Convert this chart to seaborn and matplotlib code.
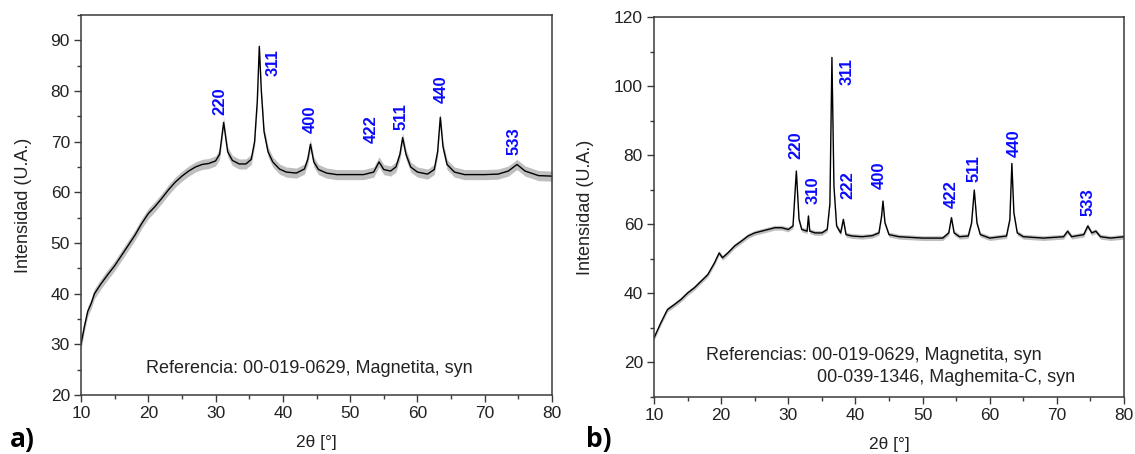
import numpy as np
import pandas as pd
import matplotlib
matplotlib.use("Agg")
import matplotlib.pyplot as plt
from matplotlib.ticker import MultipleLocator
import seaborn as sns

# ---------------- data ----------------
a_theta = [10.0, 10.5, 11.0, 11.5, 12.0, 13.0, 14.0, 15.0, 16.0, 17.0, 18.0, 19.0, 20.0,
           21.0, 22.0, 23.0, 24.0, 25.0, 26.0, 27.0, 28.0, 29.0, 30.0, 30.6, 31.2, 31.8,
           32.5, 33.5, 34.5, 35.3, 35.8, 36.2, 36.5, 36.8, 37.2, 37.8, 38.5, 39.5, 40.5,
           42.0, 43.2, 43.7, 44.1, 44.6, 45.3, 46.5, 48.0, 50.0, 52.0, 53.5, 54.3, 55.0,
           56.0, 56.8, 57.4, 57.8, 58.3, 59.0, 60.0, 61.5, 62.5, 63.0, 63.4, 63.8, 64.4,
           65.5, 67.0, 70.0, 72.0, 73.5, 74.8, 76.0, 78.0, 80.0]
a_int = [30.0, 33.5, 36.5, 38.0, 40.0, 42.0, 43.8, 45.5, 47.5, 49.5, 51.5, 53.8, 55.8,
         57.2, 58.8, 60.5, 62.0, 63.2, 64.2, 65.0, 65.5, 65.7, 66.2, 67.5, 73.8, 68.0,
         66.3, 65.6, 65.6, 66.5, 70.0, 78.0, 88.8, 80.0, 72.0, 68.0, 66.0, 64.6, 64.0,
         63.8, 64.6, 66.5, 69.5, 66.0, 64.5, 63.8, 63.5, 63.5, 63.5, 64.0, 66.0, 64.5,
         64.2, 65.0, 67.5, 70.8, 67.5, 65.0, 64.0, 63.6, 64.5, 68.0, 74.8, 69.0, 65.5,
         64.0, 63.5, 63.5, 63.6, 64.2, 65.5, 64.2, 63.3, 63.2]

b_theta = [10.0, 11.0, 12.0, 13.0, 14.0, 15.0, 16.0, 17.0, 18.0, 19.0, 19.7, 20.2, 21.0,
           22.0, 23.0, 24.0, 25.0, 26.0, 27.0, 28.0, 29.0, 30.0, 30.7, 31.2, 31.6, 32.0,
           32.8, 33.0, 33.2, 34.0, 35.0, 35.8, 36.2, 36.5, 36.8, 37.2, 37.8, 38.2, 38.6,
           39.5, 41.0, 42.5, 43.5, 43.9, 44.1, 44.4, 45.0, 46.5, 50.0, 53.0, 53.9, 54.3,
           54.7, 55.5, 56.8, 57.3, 57.7, 58.1, 58.6, 60.0, 62.5, 63.0, 63.3, 63.6, 64.1,
           65.0, 68.0, 71.0, 71.6, 72.2, 74.0, 74.6, 75.2, 75.8, 76.5, 78.0, 80.0]
b_int = [27.1, 31.4, 35.3, 36.7, 38.2, 40.1, 41.6, 43.5, 45.4, 48.8, 51.7, 50.3, 51.7,
         53.7, 55.1, 56.6, 57.5, 58.0, 58.5, 59.0, 59.0, 58.5, 59.5, 75.4, 61.4, 58.5,
         58.0, 62.4, 58.0, 57.5, 57.5, 58.5, 66.0, 108.3, 71.0, 59.5, 57.5, 61.4, 57.0,
         56.6, 56.4, 56.7, 57.5, 62.4, 66.7, 60.4, 57.0, 56.4, 56.0, 56.0, 57.5, 61.9,
         57.5, 56.4, 56.6, 60.4, 69.9, 60.4, 57.0, 56.0, 56.6, 61.4, 77.6, 63.3, 57.5,
         56.4, 56.0, 56.4, 58.0, 56.4, 57.0, 59.5, 57.5, 58.0, 56.4, 56.0, 56.4]

a_labels = ["220", "311", "400", "422", "511", "440", "533"]
a_label_x = [30.7, 38.6, 44.05, 53.1, 57.6, 63.5, 74.4]
a_label_y = [75.3, 83.0, 71.8, 69.7, 72.4, 77.6, 67.4]

b_labels = ["220", "310", "311", "222", "400", "422", "511", "440", "533"]
b_label_x = [31.1, 33.7, 38.7, 38.9, 43.6, 54.2, 57.6, 63.6, 74.6]
b_label_y = [78.8, 66.0, 100.3, 67.2, 70.3, 64.8, 72.3, 79.5, 62.5]

a_ref = "Referencia: 00-019-0629, Magnetita, syn"
b_ref1 = "Referencias: 00-019-0629, Magnetita, syn"
b_ref2 = "00-039-1346, Maghemita-C, syn"

xlabel = "2\u03b8 [\u00b0]"
ylabel = "Intensidad (U.A.)"

# ---------------- style ----------------
sns.set_theme(style="ticks")
plt.rcParams["font.family"] = ["Liberation Sans", "DejaVu Sans"]
plt.rcParams["axes.edgecolor"] = "#3a3a3a"
plt.rcParams["xtick.color"] = "#3a3a3a"
plt.rcParams["ytick.color"] = "#3a3a3a"
plt.rcParams["xtick.labelcolor"] = "#222222"
plt.rcParams["ytick.labelcolor"] = "#222222"

fig = plt.figure(figsize=(11.35, 4.54), dpi=100)
W, H = 1135, 454
ax_a = fig.add_axes([81 / W, 1 - 395 / H, (552 - 81) / W, (395 - 15) / H])
ax_b = fig.add_axes([654 / W, 1 - 397 / H, (1124 - 654) / W, (397 - 17) / H])

df_a = pd.DataFrame({"theta": a_theta, "I": a_int})
df_b = pd.DataFrame({"theta": b_theta, "I": b_int})


def draw(ax, df, noise, ylim, ymaj, ymin_loc, labels, lx, ly, ylpad):
    ax.fill_between(df["theta"], df["I"] - noise, df["I"] + noise,
                    color="#8c8c8c", alpha=0.55, linewidth=0)
    sns.lineplot(data=df, x="theta", y="I", ax=ax, color="black",
                 linewidth=1.0, sort=False, estimator=None)
    ax.set_xlim(10, 80)
    ax.set_ylim(*ylim)
    ax.xaxis.set_major_locator(MultipleLocator(10))
    ax.xaxis.set_minor_locator(MultipleLocator(5))
    ax.yaxis.set_major_locator(MultipleLocator(ymaj))
    ax.yaxis.set_minor_locator(MultipleLocator(ymin_loc))
    ax.tick_params(which="major", direction="out", length=5, width=1.0,
                   labelsize=12.5, pad=3)
    ax.tick_params(which="minor", direction="out", length=3, width=1.0)
    ax.tick_params(top=False, right=False)
    for s in ax.spines.values():
        s.set_visible(True)
        s.set_linewidth(1.1)
    ax.set_xlabel(xlabel, fontsize=12.5, color="#222222", labelpad=10)
    ax.set_ylabel(ylabel, fontsize=13, color="#222222", labelpad=ylpad)
    for t, x, y in zip(labels, lx, ly):
        ax.text(x, y, t, rotation=90, color="#0a0aff", fontsize=12,
                fontweight="bold", ha="center", va="bottom")


draw(ax_a, df_a, 1.0, (20, 95), 10, 5, a_labels, a_label_x, a_label_y, 13)
draw(ax_b, df_b, 0.7, (10, 120), 20, 10, b_labels, b_label_x, b_label_y, 14)

ax_a.text(43.9, 25.3, a_ref, fontsize=13, color="#222222", ha="center", va="center")
ax_b.text(17.7, 21.9, b_ref1, fontsize=13, color="#222222", ha="left", va="center")
ax_b.text(34.3, 15.6, b_ref2, fontsize=13, color="#222222", ha="left", va="center")

fig.text(10 / W, 1 - 440 / H, "a)", fontsize=19, fontweight="bold",
         family=["Open Sans", "DejaVu Sans"], ha="left", va="center", color="black")
fig.text(586 / W, 1 - 440 / H, "b)", fontsize=19, fontweight="bold",
         family=["Open Sans", "DejaVu Sans"], ha="left", va="center", color="black")

fig.savefig("out.png", dpi=100)
